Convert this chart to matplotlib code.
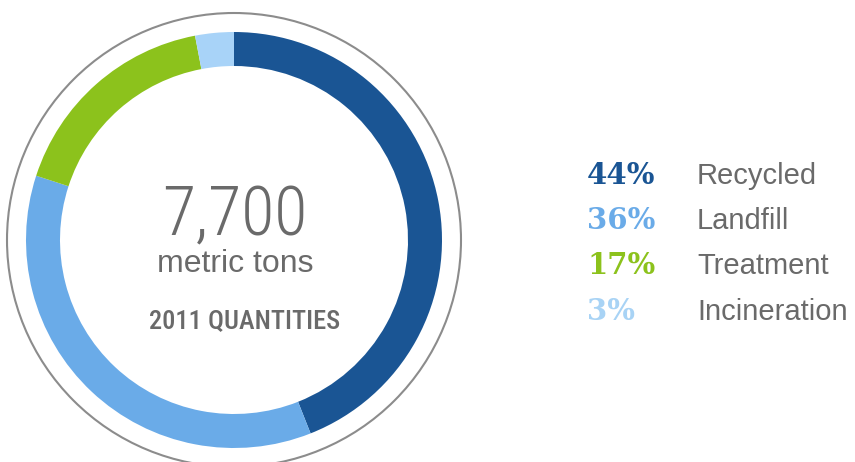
import matplotlib
matplotlib.use("Agg")
import matplotlib.pyplot as plt
from matplotlib.patches import Circle

# ---- data ----
categories = ["Recycled", "Landfill", "Treatment", "Incineration"]
shares = [44, 36, 17, 3]
pct_labels = ["44%", "36%", "17%", "3%"]
ring_colors = ["#1a5594", "#6aabe8", "#8cc21c", "#a8d3f8"]
pct_colors = ["#1a5594", "#6aabe8", "#8cc21c", "#a8d3f5"]
total_label = "7,700"
unit_label = "metric tons"
year_label = "2011 QUANTITIES"

W, H = 855, 462
fig = plt.figure(figsize=(W / 100, H / 100), dpi=100)
ax = fig.add_axes([0, 0, 1, 1])

cx, cy = 234, H - 240
ax.pie(shares, radius=208, center=(cx, cy), startangle=90, counterclock=False,
       colors=ring_colors, wedgeprops=dict(width=34, linewidth=0))
ax.add_patch(Circle((cx, cy), 227, fill=False, ec="#8c8c8c", lw=1.5))

ax.set_xlim(0, W)
ax.set_ylim(0, H)
ax.set_aspect("equal")
ax.axis("off")

grey = "#6a6a6a"
ax.text(cx + 1, H - 235, total_label, ha="center", va="baseline", fontsize=49,
        color=grey, family=["Roboto Condensed", "Roboto"], fontweight="light")
ax.text(cx + 1, H - 272, unit_label, ha="center", va="baseline", fontsize=23,
        color=grey, family=["Liberation Sans"])
ax.text(cx + 11, H - 328, year_label, ha="center", va="baseline", fontsize=19,
        color=grey, family=["Roboto Condensed", "Liberation Sans"], fontweight="medium")

baselines = [184, 229, 274.5, 320]
for pl, cat, col, yb in zip(pct_labels, categories, pct_colors, baselines):
    ax.text(587, H - yb, pl, ha="left", va="baseline", fontsize=21, color=col,
            family=["DejaVu Serif"], fontweight="bold")
    ax.text(697, H - yb, cat, ha="left", va="baseline", fontsize=21, color=grey,
            family=["Liberation Sans"])

fig.savefig("out.png", dpi=100, facecolor="white")
